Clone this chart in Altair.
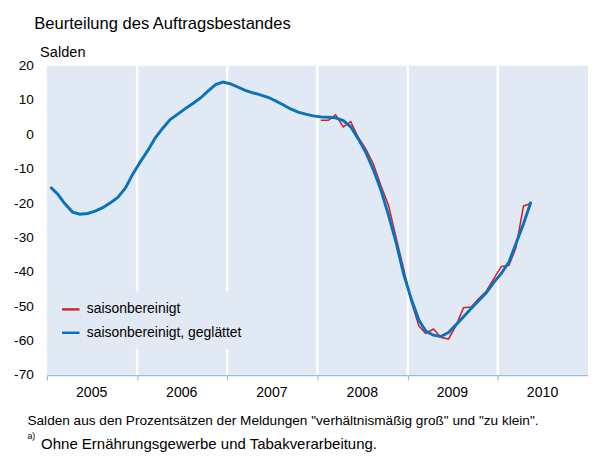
import altair as alt
import pandas as pd

FONT = "Liberation Sans"
BG = "#e1e9f4"
RED = "#d2232a"
BLUE = "#0a72ba"
AXIS = "#9dbbe0"

# monthly values, Jan 2005 - May 2010 (smoothed)
blue = [-15.3, -17.5, -20.2, -22.6, -23.2, -23.0, -22.3, -21.3, -19.9, -18.3, -15.6, -11.5,
        -7.9, -4.5, -1.1, 1.8, 4.3, 5.9, 7.5, 9.0, 10.6, 12.6, 14.5, 15.2,
        14.7, 13.7, 12.8, 12.1, 11.5, 10.8, 9.8, 8.6, 7.4, 6.5, 5.9, 5.4,
        5.1, 5.0, 4.8, 4.0, 2.2, -1.3, -5.2, -10.3, -16.3, -23.5, -31.5, -40.5,
        -47.8, -54.0, -57.2, -58.4, -58.8, -57.6, -55.4, -53.0, -50.6, -48.4, -46.1, -43.1,
        -40.4, -37.1, -31.8, -26.0, -19.6]
# monthly values, Jan 2008 - May 2010 (seasonally adjusted)
red = [4.1, 4.1, 5.7, 2.2, 3.7, -0.9, -4.2, -8.6, -15.0, -20.6, -30.0, -39.0,
       -48.5, -55.7, -57.9, -56.6, -59.0, -59.5, -55.7, -50.4, -50.2, -47.8, -45.6, -42.0,
       -38.4, -38.1, -33.0, -20.8, -20.1]

series_names = ["saisonbereinigt", "saisonbereinigt, geglättet"]
years = ["2005", "2006", "2007", "2008", "2009", "2010"]
year_bounds = [2006, 2007, 2008, 2009, 2010]

title_text = "Beurteilung des Auftragsbestandes"
ylabel_text = "Salden"
note1 = 'Salden aus den Prozentsätzen der Meldungen "verhältnismäßig groß" und "zu klein".'
note2_mark = "a)"
note2 = "Ohne Ernährungsgewerbe und Tabakverarbeitung."

dates = pd.date_range("2005-01-01", periods=len(blue), freq="MS") + pd.Timedelta(days=14)
df_blue = pd.DataFrame({"date": dates, "value": blue, "series": series_names[1]})
df_red = pd.DataFrame({"date": dates[36:36 + len(red)], "value": red, "series": series_names[0]})
df_bounds = pd.DataFrame({"date": pd.to_datetime([f"{y}-01-01" for y in year_bounds])})
df_years = pd.DataFrame({"date": pd.to_datetime([f"{y}-07-01" for y in years]), "label": years})

xscale = alt.Scale(domain=[alt.DateTime(year=2005, month=1, date=1),
                           alt.DateTime(year=2011, month=1, date=1)])
xaxis = alt.Axis(values=[alt.DateTime(year=y, month=1, date=1) for y in range(2005, 2012)],
                 labels=False, tickSize=5, tickColor=AXIS, domainColor=AXIS,
                 domainWidth=1.2, tickWidth=1.2, grid=False, title=None)
yscale = alt.Scale(domain=[-70, 20])
yaxis = alt.Axis(values=list(range(-70, 21, 10)), title=None, ticks=False, domain=False,
                 grid=False, labelPadding=14, labelFontSize=14, labelColor="black",
                 labelFont=FONT, labelExpr="'' + datum.value")
cscale = alt.Scale(domain=series_names, range=[RED, BLUE])
legend = alt.Legend(orient="none", legendX=6, legendY=232, title=None, symbolType="stroke",
                    symbolSize=324, symbolStrokeWidth=2.5, labelFontSize=14.3, labelFont=FONT,
                    labelColor="black", labelOffset=6, rowPadding=6, padding=8,
                    fillColor=BG, strokeColor=BG)

rules = alt.Chart(df_bounds).mark_rule(color="white", strokeWidth=2.5).encode(
    x=alt.X("date:T", scale=xscale, axis=xaxis))

red_line = alt.Chart(df_red).mark_line(strokeWidth=1.6).encode(
    x=alt.X("date:T", scale=xscale, axis=xaxis),
    y=alt.Y("value:Q", scale=yscale, axis=yaxis),
    color=alt.Color("series:N", scale=cscale, legend=legend))

blue_line = alt.Chart(df_blue).mark_line(strokeWidth=3).encode(
    x=alt.X("date:T", scale=xscale, axis=xaxis),
    y=alt.Y("value:Q", scale=yscale, axis=yaxis),
    color=alt.Color("series:N", scale=cscale, legend=legend))

year_text = alt.Chart(df_years).mark_text(fontSize=14.5, font=FONT, color="black",
                                          baseline="middle", align="center").encode(
    x=alt.X("date:T", scale=xscale, axis=xaxis), y=alt.value(336), text="label:N")


def label(txt, x, y, size, align="left"):
    return alt.Chart(pd.DataFrame({"t": [txt]})).mark_text(
        fontSize=size, font=FONT, color="black", align=align, baseline="middle").encode(
        x=alt.value(x), y=alt.value(y), text="t:N")


chart = alt.layer(
    rules, red_line, blue_line, year_text,
    label(title_text, -13, -43, 17),
    label(ylabel_text, -7, -14, 15),
    label(note1, -20, 365, 14),
    label(note2_mark, -20, 381, 9),
    label(note2, -6, 389, 15.4),
).properties(
    width=556, height=318, autosize="none",
    padding={"left": 40, "top": 53, "right": 0, "bottom": 80},
).configure_view(fill=BG, stroke=None)

chart.save("out.html", embed_options={"renderer": "svg", "actions": False})
